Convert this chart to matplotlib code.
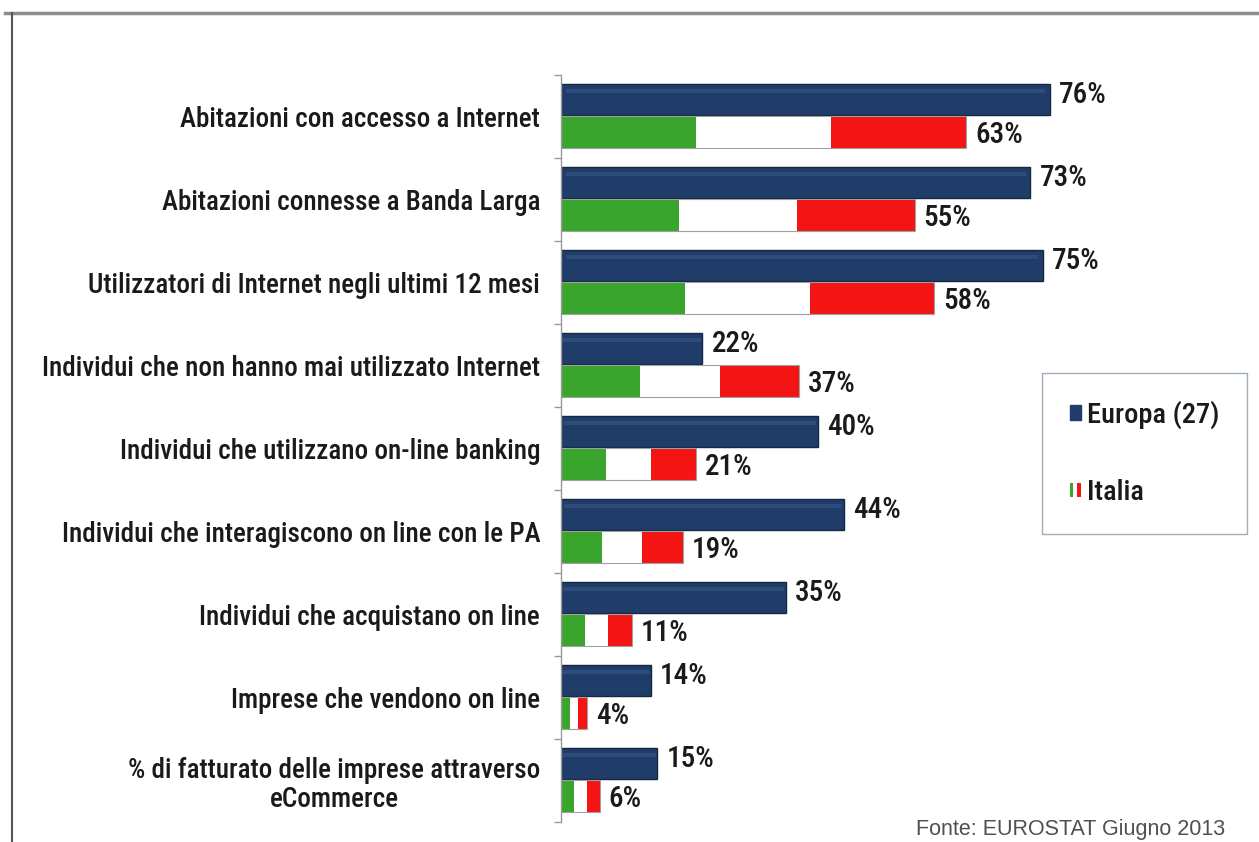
import matplotlib
matplotlib.use("Agg")
import matplotlib.pyplot as plt
from matplotlib.patches import Patch
from matplotlib.legend_handler import HandlerTuple
from matplotlib.lines import Line2D

categories = [
    "Abitazioni con accesso a Internet",
    "Abitazioni connesse a Banda Larga",
    "Utilizzatori di Internet negli ultimi 12 mesi",
    "Individui che non hanno mai utilizzato Internet",
    "Individui che utilizzano on-line banking",
    "Individui che interagiscono on line con le PA",
    "Individui che acquistano on line",
    "Imprese che vendono on line",
    "% di fatturato delle imprese attraverso\neCommerce",
]
europa = [76, 73, 75, 22, 40, 44, 35, 14, 15]
italia = [63, 55, 58, 37, 21, 19, 11, 4, 6]
series_names = ["Europa (27)", "Italia"]
source = "Fonte: EUROSTAT Giugno 2013"

NAVY = "#203d69"
GREEN = "#3aa52c"
RED = "#f41414"
FONT = ["Roboto Condensed", "DejaVu Sans"]
WEIGHT = 500

W, H = 1259, 842
fig = plt.figure(figsize=(W / 100, H / 100), dpi=100)
fig.patch.set_facecolor("white")

# frame lines
fig.add_artist(Line2D([5 / W, 1], [1 - 13 / H, 1 - 13 / H], color="#8c8c8c", lw=2.5, transform=fig.transFigure))
fig.add_artist(Line2D([12 / W, 12 / W], [0, 1 - 13 / H], color="#555555", lw=1.5, transform=fig.transFigure))

x0, x1 = 561, 1204
y0, y1 = 75, 822
ax = fig.add_axes([x0 / W, 1 - y1 / H, (x1 - x0) / W, (y1 - y0) / H])
ax.set_xlim(0, 100)
n = len(categories)
ax.set_ylim(n, 0)

h = 0.38
off_e, off_i = -0.205, 0.185
for i, (e, it) in enumerate(zip(europa, italia)):
    ye = i + 0.5 + off_e
    yi = i + 0.5 + off_i
    ax.barh(ye, e, height=h, color=NAVY, edgecolor="#142844", linewidth=1.0)
    ax.barh(ye - h * 0.27, e * 0.98, left=e * 0.01, height=h * 0.14, color="#5a7aaa", alpha=0.25, linewidth=0)
    third = it / 3
    ax.barh(yi, third, left=0, height=h, color=GREEN, edgecolor="none")
    ax.barh(yi, third, left=third, height=h, color="white", edgecolor="none")
    ax.barh(yi, third, left=2 * third, height=h, color=RED, edgecolor="none")
    ax.barh(yi, it, height=h, color="none", edgecolor="#a0a0a0", linewidth=0.8)
    ax.text(e + 1.4, ye - 0.06, f"{e}%", va="center", ha="left", fontsize=21,
            fontweight=WEIGHT, family=FONT, color="#1a1a1a")
    ax.text(it + 1.4, yi + 0.04, f"{it}%", va="center", ha="left", fontsize=21,
            fontweight=WEIGHT, family=FONT, color="#1a1a1a")

ax.set_yticks(range(n + 1))
ax.set_yticklabels([])
ax.tick_params(axis="y", direction="out", length=5, color="#999999", width=1)
ax.set_yticks([i + 0.5 for i in range(n)], minor=True)
ax.set_yticklabels(categories, minor=True, fontsize=19.5, fontweight=WEIGHT, family=FONT,
                   color="#1a1a1a", ha="right", multialignment="center", linespacing=1.1)
ax.tick_params(axis="y", which="minor", length=0, pad=15)
ax.set_xticks([])
for s in ["top", "right", "bottom"]:
    ax.spines[s].set_visible(False)
ax.spines["left"].set_color("#999999")
ax.spines["left"].set_linewidth(1)

handles = [Patch(facecolor=NAVY, edgecolor=NAVY),
           (Patch(facecolor=GREEN, edgecolor="none"), Patch(facecolor="white", edgecolor="none"),
            Patch(facecolor=RED, edgecolor="none"))]
leg = fig.legend(handles, series_names, handler_map={tuple: HandlerTuple(ndivide=None, pad=0)},
                 loc="upper left", bbox_to_anchor=(1042 / W, 1 - 373 / H),
                 frameon=True, fancybox=False, edgecolor="#8a9aa8", borderpad=0.97,
                 labelspacing=1.75, handlelength=0.4, handleheight=0.4, handletextpad=0.2,
                 borderaxespad=0,
                 prop={"family": FONT, "size": 20.5, "weight": WEIGHT})
leg.get_frame().set_linewidth(1.0)
for t in leg.get_texts():
    t.set_color("#1a1a1a")

fig.text(1225 / W, 1 - 830 / H, source, ha="right", va="center", fontsize=15.5,
         family=["Liberation Sans", "DejaVu Sans"], color="#505050")

fig.savefig("out.png", dpi=100)
